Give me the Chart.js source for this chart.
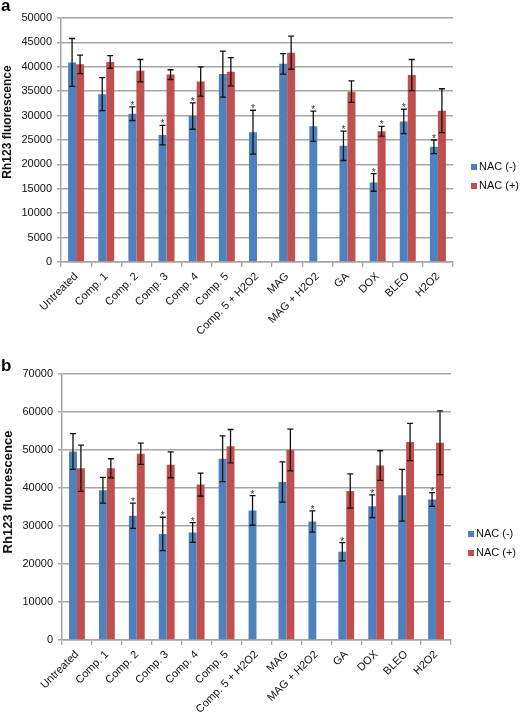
<!DOCTYPE html>
<html><head><meta charset="utf-8">
<script src="https://cdn.jsdelivr.net/npm/chart.js@4.4.1/dist/chart.umd.min.js"></script>
<style>
body{margin:0;background:#fff;width:520px;height:713px;position:relative;overflow:hidden;font-family:"Liberation Sans",Arial,sans-serif}
.wrap{position:absolute;left:0;width:520px}
.letter{position:absolute;left:1px;font-weight:bold;font-size:17px;line-height:17px;color:#000}
.lg{position:absolute;font-size:11px;line-height:12px;color:#111;white-space:nowrap}
.lg i{display:inline-block;width:6px;height:6px;margin-right:2px;vertical-align:0px}
</style></head><body>
<div class="wrap" style="top:0;height:360px"><canvas id="ca"></canvas></div>
<div class="wrap" style="top:360px;height:353px"><canvas id="cb"></canvas></div>
<div class="letter" style="top:-3px">a</div>
<div class="letter" style="top:357px">b</div>
<div class="lg" style="left:471px;top:160px"><i style="background:#4F81BD"></i>NAC (-)</div>
<div class="lg" style="left:471px;top:179px"><i style="background:#C0504D"></i>NAC (+)</div>
<div class="lg" style="left:468px;top:527px"><i style="background:#4F81BD"></i>NAC (-)</div>
<div class="lg" style="left:468px;top:546px"><i style="background:#C0504D"></i>NAC (+)</div>
<script>
const categories = ['Untreated','Comp. 1','Comp. 2','Comp. 3','Comp. 4','Comp. 5','Comp. 5 + H2O2','MAG','MAG + H2O2','GA','DOX','BLEO','H2O2'];
const seriesNames = ['NAC (-)','NAC (+)'];
const yTitle = 'Rh123 fluorescence';

// Panel a
const aNacMinus    = [40900,34400,30400,26000,29900,38500,26600,40600,27800,23800,16300,28800,23600];
const aNacMinusErr = [4900,3400,1400,2000,2700,4700,4500,2100,3100,3000,1800,2500,1400];
const aNacPlus     = [40500,41000,39200,38400,37000,39000,null,42900,null,34900,26800,38300,31000];
const aNacPlusErr  = [1900,1300,2300,1000,3000,2900,null,3400,null,2200,1000,3200,4500];
const aStarMinus   = [0,0,1,1,1,0,1,0,1,1,1,1,1];
const aStarPlus    = [0,0,0,0,0,0,0,0,0,0,1,0,0];
const aMax = 50000, aStep = 5000;

// Panel b
const bNacMinus    = [49600,39400,32700,27900,28300,47700,34100,41600,31200,23200,35200,38100,37000];
const bNacMinusErr = [4700,3400,3300,4400,2600,6000,3900,5300,2800,2400,3000,6800,1800];
const bNacPlus     = [45200,45200,49000,46100,40900,51000,null,50000,null,39200,45900,52100,51900];
const bNacPlusErr  = [6100,2500,2800,3400,3000,4400,null,5500,null,4500,3900,4900,8400];
const bStarMinus   = [0,0,1,1,1,0,1,0,1,1,1,0,1];
const bStarPlus    = [0,0,0,0,0,0,0,0,0,0,0,0,0];
const bMax = 70000, bStep = 10000;

const FONT = "'Liberation Sans', Arial, sans-serif";
const errPlugin = {
  id: 'errs',
  afterDatasetsDraw(chart) {
    const ctx = chart.ctx, y = chart.scales.y;
    chart.data.datasets.forEach((ds, di) => {
      const meta = chart.getDatasetMeta(di);
      meta.data.forEach((bar, i) => {
        const v = ds.data[i]; if (v == null) return;
        const e = ds.errors[i], x = bar.x;
        const yt = y.getPixelForValue(v + e), yb = y.getPixelForValue(v - e);
        ctx.save();
        ctx.strokeStyle = '#111'; ctx.lineWidth = 1.3;
        ctx.beginPath();
        ctx.moveTo(x, yt); ctx.lineTo(x, yb);
        ctx.moveTo(x - 3, yt); ctx.lineTo(x + 3, yt);
        ctx.moveTo(x - 3, yb); ctx.lineTo(x + 3, yb);
        ctx.stroke();
        if (ds.stars[i]) {
          ctx.fillStyle = '#333'; ctx.font = '10px ' + FONT;
          ctx.textAlign = 'center'; ctx.textBaseline = 'alphabetic';
          ctx.fillText('*', x, yt + 2);
        }
        ctx.restore();
      });
    });
  }
};
const titlePlugin = {
  id: 'ytitle',
  afterDraw(chart, args, opts) {
    const ctx = chart.ctx;
    ctx.save();
    ctx.translate(opts.x, opts.y);
    ctx.rotate(-Math.PI / 2);
    ctx.font = 'bold ' + opts.size + 'px ' + FONT;
    ctx.fillStyle = '#111'; ctx.textAlign = 'center'; ctx.textBaseline = 'middle';
    ctx.fillText(yTitle, 0, 0);
    ctx.restore();
  }
};

function make(id, minus, minusErr, plus, plusErr, sMinus, sPlus, max, step, cfg) {
  new Chart(document.getElementById(id), {
    type: 'bar',
    data: {
      labels: categories,
      datasets: [
        {label: seriesNames[0], data: minus, errors: minusErr, stars: sMinus, backgroundColor: '#4F81BD', borderWidth: 0},
        {label: seriesNames[1], data: plus, errors: plusErr, stars: sPlus, backgroundColor: '#C0504D', borderWidth: 0}
      ]
    },
    plugins: [errPlugin, titlePlugin],
    options: {
      responsive: true, maintainAspectRatio: false, animation: false,
      layout: {padding: {top: cfg.top, right: cfg.right, left: 0, bottom: 0}},
      categoryPercentage: 0.53, barPercentage: 1.0,
      plugins: {legend: {display: false}, tooltip: {enabled: false},
        ytitle: {x: 8, y: cfg.titleY, size: cfg.titleSize}},
      scales: {
        x: {
          afterFit(s) { s.height = cfg.xh; },
          grid: {drawOnChartArea: false, drawTicks: true, tickLength: 5, color: '#a6a6a6', lineWidth: 1.3, offset: true},
          border: {display: true, color: '#a6a6a6', width: 1.5},
          ticks: {autoSkip: false, maxRotation: 45, minRotation: 45, color: '#111', padding: 3, font: {family: FONT, size: 11}}
        },
        y: {
          min: 0, max: max,
          afterFit(s) { s.width = cfg.left; },
          grid: {color: '#a6a6a6', lineWidth: 1.5, drawTicks: true, tickLength: 4},
          border: {display: true, color: '#a6a6a6', width: 1.5},
          ticks: {stepSize: step, color: '#111', padding: 5, font: {family: FONT, size: 11},
            callback: (v) => String(v)}
        }
      }
    }
  });
}
make('ca', aNacMinus, aNacMinusErr, aNacPlus, aNacPlusErr, aStarMinus, aStarPlus, aMax, aStep,
  {top: 18, right: 67, left: 61, xh: 98, titleY: 122, titleSize: 12});
make('cb', bNacMinus, bNacMinusErr, bNacPlus, bNacPlusErr, bStarMinus, bStarPlus, bMax, bStep,
  {top: 14, right: 69, left: 62, xh: 73, titleY: 132, titleSize: 13});
</script>
</body></html>
